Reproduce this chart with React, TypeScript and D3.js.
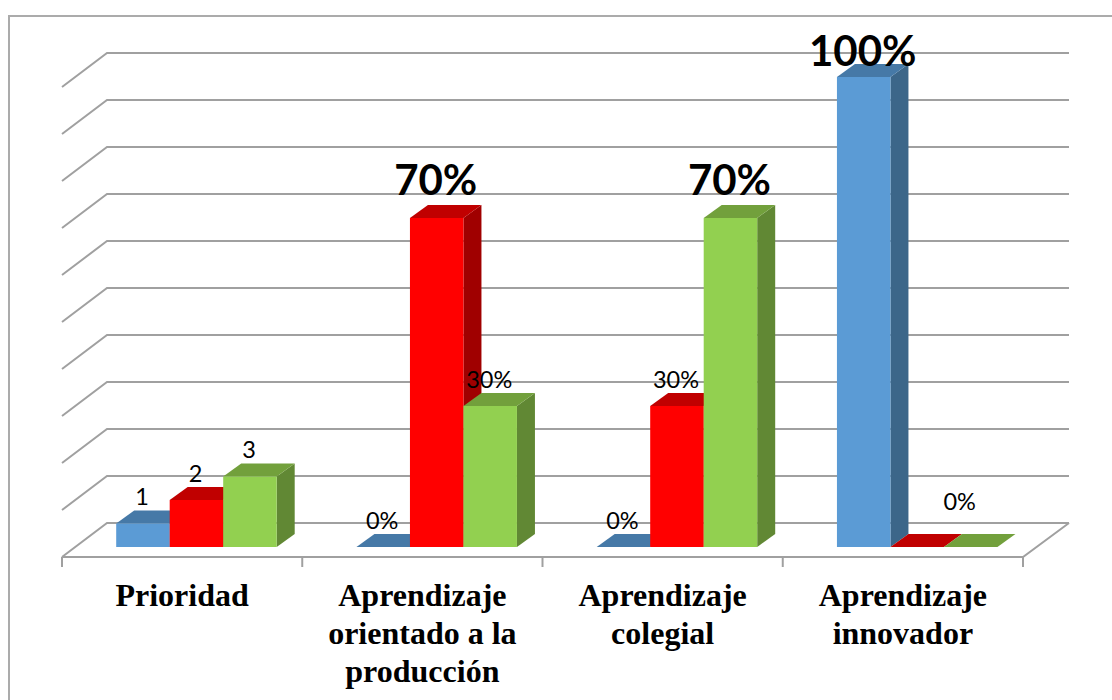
import React from "react";
import * as d3 from "d3";

const categories = [
  ["Prioridad"],
  ["Aprendizaje", "orientado a la", "producción"],
  ["Aprendizaje", "colegial"],
  ["Aprendizaje", "innovador"],
];
const categoryKeys = ["Prioridad", "Orientado", "Colegial", "Innovador"];
const seriesKeys = ["s1", "s2", "s3"];
const series1 = [0.05, 0, 0, 1];
const series2 = [0.1, 0.7, 0.3, 0];
const series3 = [0.15, 0.3, 0.7, 0];
const labels1 = ["1", "0%", "0%", "100%"];
const labels2 = ["2", "70%", "30%", ""];
const labels3 = ["3", "30%", "70%", "0%"];
const gridValues = [0, 0.1, 0.2, 0.3, 0.4, 0.5, 0.6, 0.7, 0.8, 0.9, 1];

const W = 1112;
const H = 700;
const faces = [
  { front: "#5b9bd5", top: "#4679a7", side: "#3c6689" },
  { front: "#ff0000", top: "#c00000", side: "#a00000" },
  { front: "#92d050", top: "#72a03c", side: "#618834" },
];
const FLOOR_X0 = 62;
const FLOOR_X1 = 1023;
const FLOOR_Y = 557;
const DEPTH_GX = 45;
const DEPTH_GY = 34;
const BAR_DX = 18;
const BAR_DY = 13;

const xBand = d3.scaleBand<string>().domain(categoryKeys).range([FLOOR_X0, FLOOR_X1]);
const xBar = d3.scaleBand<string>().domain(seriesKeys).range([54.2, 214.7]);
const yBack = d3.scaleLinear().domain([0, 1]).range([523, 53]);
const yBar = d3.scaleLinear().domain([0, 1]).range([547, 77]);

const poly = (pts: [number, number][]) => pts.map((p) => p.join(",")).join(" ");

const isBig = (t: string) => t === "70%" || t === "100%";
const labelGap = (t: string, v: number) => (t === "100%" ? 11 : isBig(t) ? 23 : 18.5);
const labelShift = (ci: number, t: string) =>
  ci === 3 && t === "0%" ? { dx: -10, dy: -18.5 } : { dx: 0, dy: 0 };

export default function App() {
  const allSeries = [series1, series2, series3];
  const allLabels = [labels1, labels2, labels3];
  const bw = xBar.bandwidth();
  return (
    <svg
      width={W}
      height={H}
      style={{ position: "absolute", left: 0, top: 0, background: "#fff" }}
    >
      <polyline
        points={poly([
          [9, H],
          [9, 16],
          [W, 16],
        ])}
        fill="none"
        stroke="#ababab"
        strokeWidth={2}
      />
      <g fill="none" stroke="#a0a0a0" strokeWidth={2}>
        {gridValues.map((v) => (
          <polyline
            key={v}
            points={poly([
              [FLOOR_X0, yBack(v) + DEPTH_GY],
              [FLOOR_X0 + DEPTH_GX, yBack(v)],
              [FLOOR_X1 + DEPTH_GX + 1, yBack(v)],
            ])}
          />
        ))}
        <polyline
          points={poly([
            [FLOOR_X0, FLOOR_Y],
            [FLOOR_X1, FLOOR_Y],
            [FLOOR_X1 + DEPTH_GX + 1, yBack(0)],
          ])}
        />
        {d3.range(0, 5).map((i) => {
          const x = i < 4 ? (xBand(categoryKeys[i]) as number) : FLOOR_X1;
          return <line key={i} x1={x} x2={x} y1={FLOOR_Y} y2={FLOOR_Y + 10} />;
        })}
      </g>
      {categoryKeys.map((c, ci) => (
        <g key={c}>
          {seriesKeys.map((s, si) => {
            const x0 = (xBand(c) as number) + (xBar(s) as number);
            const x1 = x0 + bw;
            const yT = yBar(allSeries[si][ci]);
            const yB = yBar(0);
            const f = faces[si];
            return (
              <g key={s}>
                <polygon
                  points={poly([
                    [x1, yT],
                    [x1 + BAR_DX, yT - BAR_DY],
                    [x1 + BAR_DX, yB - BAR_DY],
                    [x1, yB],
                  ])}
                  fill={f.side}
                />
                <polygon
                  points={poly([
                    [x0, yT],
                    [x0 + BAR_DX, yT - BAR_DY],
                    [x1 + BAR_DX, yT - BAR_DY],
                    [x1, yT],
                  ])}
                  fill={f.top}
                />
                <rect x={x0} y={yT} width={bw} height={yB - yT} fill={f.front} />
              </g>
            );
          })}
        </g>
      ))}
      {categoryKeys.map((c, ci) =>
        seriesKeys.map((s, si) => {
          const t = allLabels[si][ci];
          if (!t) return null;
          const x0 = (xBand(c) as number) + (xBar(s) as number);
          const v = allSeries[si][ci];
          const big = isBig(t);
          const shift = labelShift(ci, t);
          return (
            <text
              key={s}
              x={x0 + bw / 2 - 1 + shift.dx}
              y={yBar(v) - labelGap(t, v) + shift.dy}
              textAnchor="middle"
              fontFamily="Lato, 'Open Sans', sans-serif"
              fontWeight={big ? 700 : 400}
              fontSize={big ? 42 : 23.5}
              fill="#000"
            >
              {t}
            </text>
          );
        })
      )}
      {categoryKeys.map((c, ci) => {
        const cx = (xBand(c) as number) + xBand.bandwidth() / 2;
        return (
          <text
            key={c}
            textAnchor="middle"
            fontFamily="'Liberation Serif', serif"
            fontWeight={700}
            fontSize={32}
            fill="#000"
          >
            {categories[ci].map((l, i) => (
              <tspan key={i} x={cx} y={606 + i * 38}>
                {l}
              </tspan>
            ))}
          </text>
        );
      })}
    </svg>
  );
}
